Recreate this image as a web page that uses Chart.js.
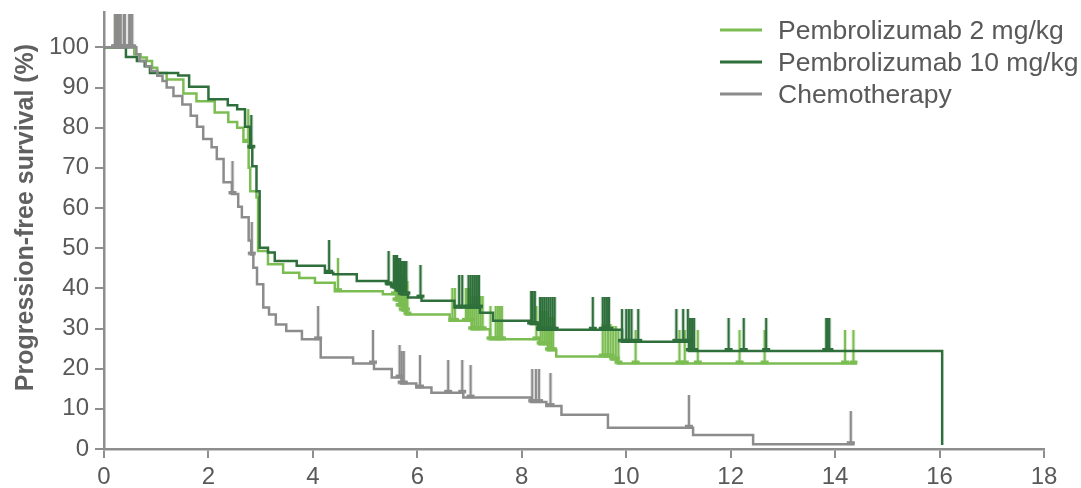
<!DOCTYPE html>
<html>
<head>
<meta charset="utf-8">
<script src="https://cdn.jsdelivr.net/npm/chart.js@4.4.1/dist/chart.umd.min.js"></script>
<style>
  html, body { margin: 0; padding: 0; background: #ffffff; }
  #wrap { width: 1081px; height: 488px; }
</style>
</head>
<body>
<div id="wrap"><canvas id="pfs" width="1081" height="488"></canvas></div>
<script>
// Kaplan-Meier progression-free survival, months on x, % on y.
const seriesNames = ['Pembrolizumab 2 mg/kg', 'Pembrolizumab 10 mg/kg', 'Chemotherapy'];

// Pembrolizumab 2 mg/kg: event times and survival after each step
const pembro2Time = [0, 0.58, 0.70, 0.82, 0.92, 1.02, 1.20, 1.52, 1.77, 2.12, 2.38, 2.55, 2.67, 2.77, 2.80, 2.92, 2.95, 3.14, 3.43, 3.74, 4.04, 4.42, 5.34, 5.60, 5.66, 5.72, 5.79, 6.62, 7.04, 7.39, 8.34, 8.50, 8.66, 9.72, 9.84, 14.42];
const pembro2Pfs  = [100, 98.3, 97.5, 96.6, 94.9, 93.6, 92.0, 88.5, 86.6, 83.8, 81.4, 80.0, 76.5, 70.0, 64.2, 62.6, 49.3, 46.0, 43.9, 42.6, 41.4, 39.3, 38.5, 37.0, 35.6, 34.5, 33.5, 31.9, 29.8, 27.3, 26.1, 24.6, 23.0, 22.3, 21.3, 21.3];
const pembro2Censor = [0.22, 0.25, 2.76, 4.48, 5.57, 5.60, 5.63, 5.66, 5.69, 5.72, 5.75, 5.78, 5.81, 6.67, 6.72, 6.93, 6.97, 7.01, 7.05, 7.09, 7.13, 7.17, 7.21, 7.25, 7.40, 7.50, 7.54, 7.58, 7.62, 8.28, 8.36, 8.40, 8.44, 8.48, 8.52, 8.56, 8.60, 9.55, 9.60, 9.65, 9.70, 9.75, 9.80, 9.85, 10.18, 11.02, 11.12, 11.37, 12.17, 12.65, 14.19, 14.35];

// Pembrolizumab 10 mg/kg
const pembro10Time = [0, 0.42, 0.63, 0.78, 0.88, 1.42, 1.63, 2.00, 2.37, 2.55, 2.70, 2.80, 2.84, 2.92, 2.98, 3.14, 3.27, 3.69, 4.23, 4.39, 4.84, 5.42, 5.55, 5.62, 5.70, 5.82, 6.08, 6.71, 7.20, 7.45, 8.18, 8.31, 9.92, 11.20, 16.05];
const pembro10Pfs  = [100, 97.6, 96.6, 95.3, 93.6, 93.0, 90.2, 87.1, 85.6, 84.6, 80.2, 75.0, 70.4, 64.2, 50.1, 48.9, 46.8, 45.6, 43.9, 43.5, 41.8, 41.0, 40.2, 39.4, 38.5, 37.7, 36.9, 35.2, 33.9, 31.9, 31.1, 29.7, 26.7, 24.4, 1.0];
const pembro10Censor = [2.82, 4.31, 5.45, 5.55, 5.58, 5.61, 5.64, 5.67, 5.70, 5.73, 5.76, 5.79, 6.06, 6.80, 6.86, 6.98, 7.02, 7.06, 7.10, 7.14, 7.18, 8.18, 8.21, 8.25, 8.35, 8.39, 8.43, 8.47, 8.51, 8.55, 8.59, 8.63, 9.36, 9.55, 9.59, 9.63, 9.67, 9.92, 10.00, 10.05, 10.10, 10.23, 10.96, 11.09, 11.18, 11.22, 11.26, 11.30, 11.96, 12.25, 12.68, 13.83, 13.86, 13.89];

// Chemotherapy
const chemoTime = [0, 0.62, 0.68, 0.80, 0.90, 1.02, 1.12, 1.20, 1.33, 1.50, 1.66, 1.78, 1.90, 2.06, 2.16, 2.29, 2.45, 2.57, 2.64, 2.77, 2.82, 2.86, 2.93, 3.05, 3.16, 3.29, 3.49, 3.79, 4.15, 4.77, 5.17, 5.51, 5.70, 5.98, 6.27, 6.88, 8.18, 8.47, 8.76, 9.65, 11.28, 12.43, 14.37];
const chemoPfs  = [100, 98.3, 96.6, 95.3, 94.1, 92.9, 91.6, 90.0, 87.9, 85.8, 83.0, 80.2, 77.2, 75.1, 72.2, 66.4, 63.5, 60.3, 57.7, 51.9, 48.4, 45.1, 41.0, 35.2, 33.5, 31.0, 29.4, 27.3, 22.8, 21.3, 19.9, 17.8, 16.3, 15.3, 14.0, 12.8, 11.7, 10.7, 8.5, 5.3, 3.5, 1.2, 1.2];
const chemoCensor = [0.21, 0.24, 0.27, 0.30, 0.32, 0.38, 0.40, 0.48, 0.51, 0.54, 2.46, 2.83, 4.10, 5.15, 5.66, 5.70, 5.74, 6.05, 6.59, 6.86, 7.02, 8.20, 8.27, 8.33, 8.55, 11.20, 14.30];

// Axis ticks
const xTicks = [0, 2, 4, 6, 8, 10, 12, 14, 16, 18];
const yTicks = [0, 10, 20, 30, 40, 50, 60, 70, 80, 90, 100];

const axisTitle = 'Progression-free survival (%)';
const colors = { pembro2: '#7bbd52', pembro10: '#2e6f3b', chemo: '#8c8c8c' };
const seriesColors = [colors.pembro2, colors.pembro10, colors.chemo];
const axisColor = '#8e8e8e';
const textColor = '#595959';
const fontFamily = '"Liberation Sans", Arial, Helvetica, sans-serif';

function stepPoints(time, pfs) {
  return time.map((t, i) => ({ x: t, y: pfs[i] }));
}

// Survival level in force at time t (after any step at t).
function levelAt(time, pfs, t) {
  let v = pfs[0];
  for (let i = 0; i < time.length; i++) {
    if (time[i] <= t) v = pfs[i]; else break;
  }
  return v;
}

function censorPoints(censor, time, pfs) {
  return censor.map(t => ({ x: t, y: levelAt(time, pfs, t) }));
}

// Censoring mark: short upright stroke with a small foot, anchored at the curve.
function censorMark(color) {
  const rise = 33;
  const c = document.createElement('canvas');
  c.width = 10;
  c.height = rise * 2;
  const g = c.getContext('2d');
  g.fillStyle = color;
  g.fillRect(c.width / 2 - 1.25, 0, 2.5, rise);
  g.fillRect(c.width / 2 - 4, rise - 3, 8, 3.5);
  return c;
}

function curveDataset(label, data, color, order) {
  return {
    type: 'line', label, data, order,
    borderColor: color, backgroundColor: color,
    borderWidth: 2.5, stepped: 'before',
    pointRadius: 0, pointHoverRadius: 0, fill: false, clip: false
  };
}

function censorDataset(label, data, color, order) {
  return {
    type: 'scatter', label, data, order,
    showLine: false, pointStyle: censorMark(color),
    pointRadius: 1, pointHoverRadius: 1, clip: false
  };
}

const keyPlugin = {
  id: 'seriesKey',
  afterDraw(chart) {
    const ctx = chart.ctx;
    ctx.save();
    // series key, top right
    ctx.font = '26.5px ' + fontFamily;
    ctx.textBaseline = 'alphabetic';
    ctx.textAlign = 'left';
    seriesNames.forEach((name, i) => {
      const y = 30 + i * 32;
      ctx.strokeStyle = seriesColors[i];
      ctx.lineWidth = 3;
      ctx.beginPath();
      ctx.moveTo(720, y);
      ctx.lineTo(762, y);
      ctx.stroke();
      ctx.fillStyle = textColor;
      ctx.fillText(name, 778, y + 8.5);
    });
    // y-axis title
    ctx.font = 'bold 25px ' + fontFamily;
    ctx.fillStyle = '#606060';
    ctx.textAlign = 'center';
    ctx.textBaseline = 'middle';
    ctx.translate(26, 217.5);
    ctx.rotate(-Math.PI / 2);
    ctx.fillText(axisTitle, 0, 0);
    ctx.restore();
  }
};

const tickFont = { size: 24, family: fontFamily };

new Chart(document.getElementById('pfs'), {
  data: {
    datasets: [
      curveDataset(seriesNames[0], stepPoints(pembro2Time, pembro2Pfs), colors.pembro2, 5),
      censorDataset(seriesNames[0] + ' censored', censorPoints(pembro2Censor, pembro2Time, pembro2Pfs), colors.pembro2, 4),
      curveDataset(seriesNames[1], stepPoints(pembro10Time, pembro10Pfs), colors.pembro10, 3),
      censorDataset(seriesNames[1] + ' censored', censorPoints(pembro10Censor, pembro10Time, pembro10Pfs), colors.pembro10, 2),
      curveDataset(seriesNames[2], stepPoints(chemoTime, chemoPfs), colors.chemo, 1),
      censorDataset(seriesNames[2] + ' censored', censorPoints(chemoCensor, chemoTime, chemoPfs), colors.chemo, 0)
    ]
  },
  options: {
    responsive: false,
    animation: false,
    events: [],
    layout: { padding: { top: 12, right: 37, bottom: 0, left: 0 } },
    plugins: { legend: { display: false }, tooltip: { enabled: false } },
    scales: {
      x: {
        type: 'linear', min: 0, max: 18,
        afterBuildTicks(scale) { scale.ticks = xTicks.map(v => ({ value: v })); },
        afterFit(scale) { scale.height = 39; scale.paddingLeft = 0; scale.paddingRight = 0; },
        ticks: { font: tickFont, color: textColor, padding: 5, maxRotation: 0, autoSkip: false },
        grid: { drawOnChartArea: false, drawTicks: true, tickLength: 9, color: axisColor, lineWidth: 2 },
        border: { display: true, color: axisColor, width: 2.5 }
      },
      y: {
        type: 'linear', min: 0, max: 108.8,
        afterBuildTicks(scale) { scale.ticks = yTicks.map(v => ({ value: v })); },
        afterFit(scale) { scale.width = 104; scale.paddingTop = 0; scale.paddingBottom = 0; },
        ticks: { font: tickFont, color: textColor, padding: 6, autoSkip: false },
        grid: { drawOnChartArea: false, drawTicks: true, tickLength: 9, color: axisColor, lineWidth: 2 },
        border: { display: true, color: axisColor, width: 2.5 }
      }
    }
  },
  plugins: [keyPlugin]
});
</script>
</body>
</html>
